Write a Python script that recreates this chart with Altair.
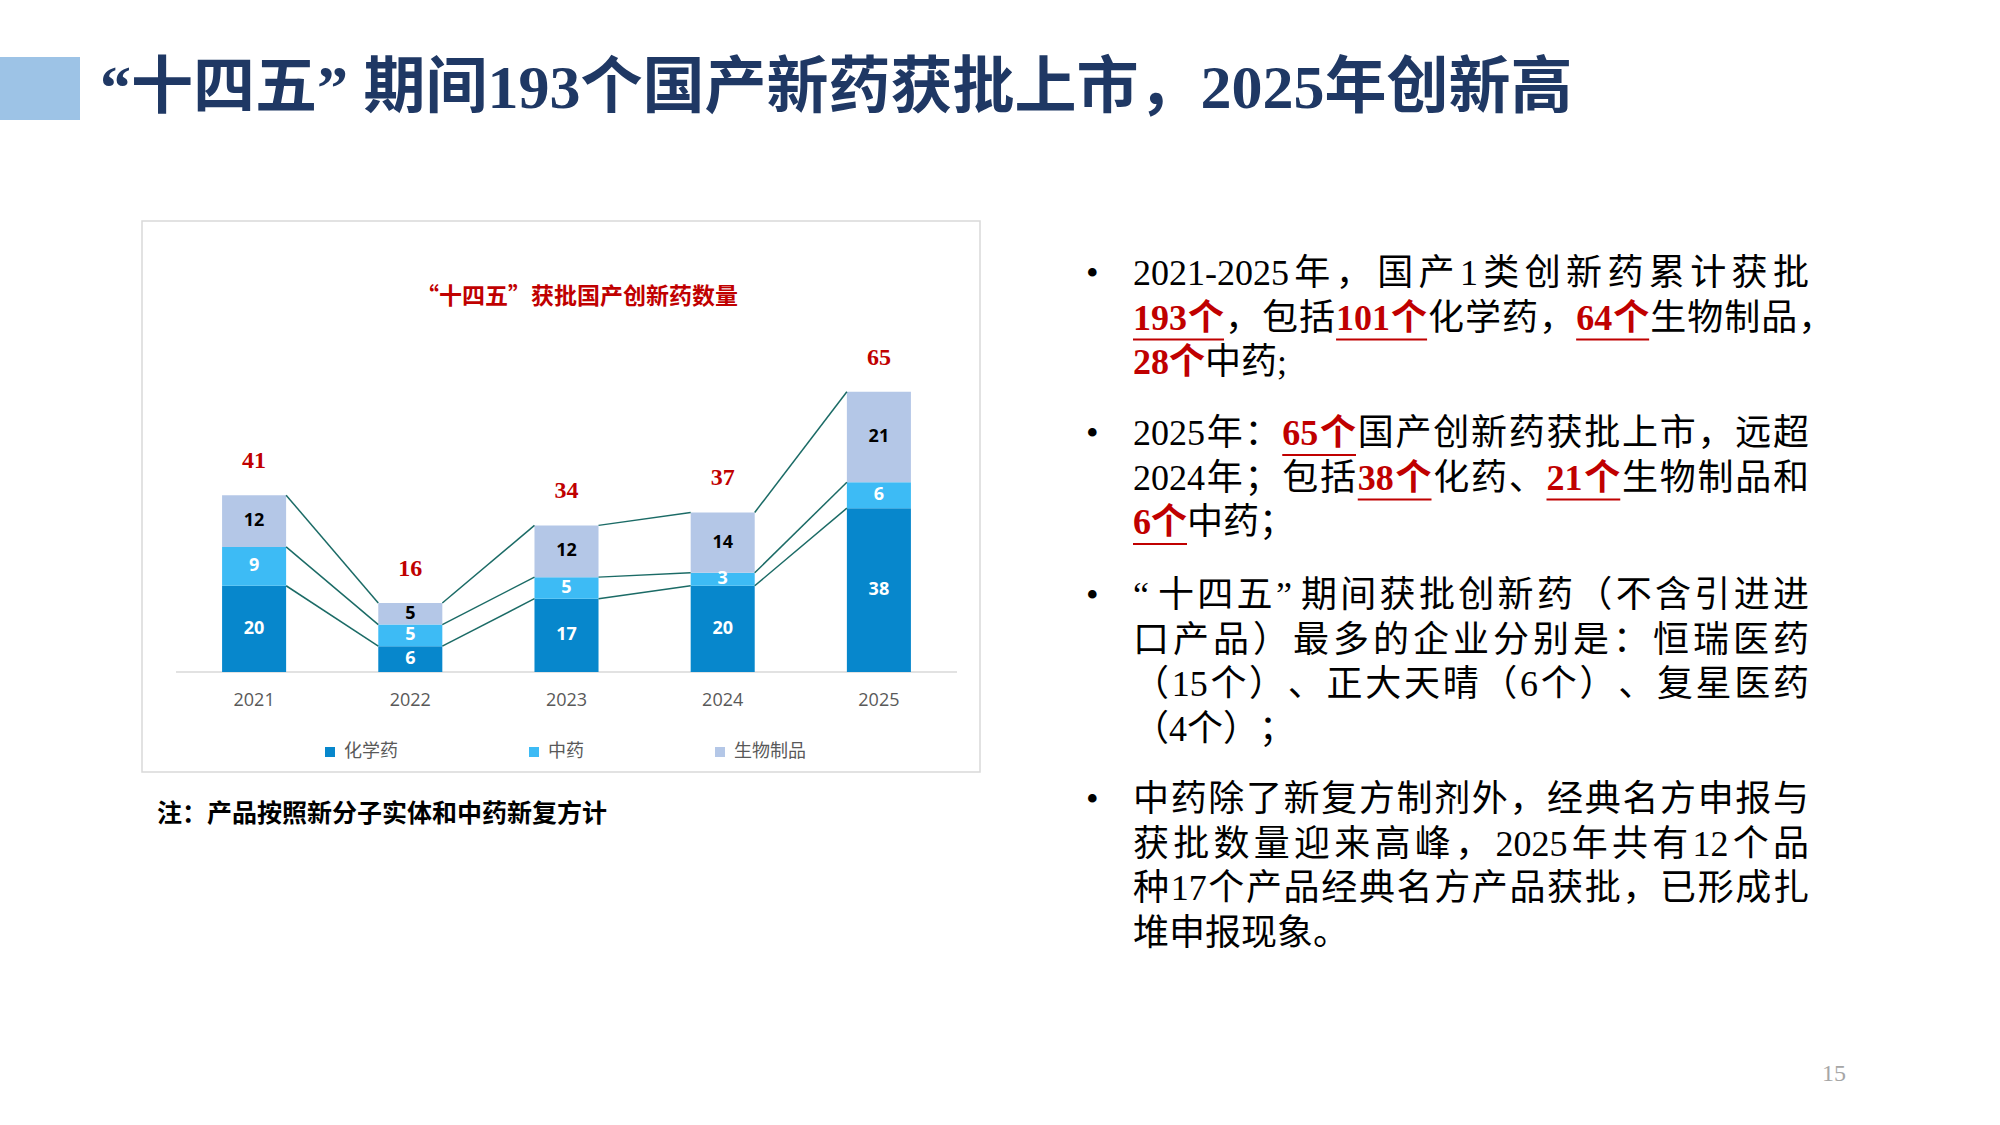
import altair as alt
import pandas as pd

# ---------------- data ----------------
years = ["2021", "2022", "2023", "2024", "2025"]
chem = [20, 6, 17, 20, 38]
tcm = [9, 5, 5, 3, 6]
bio = [12, 5, 12, 14, 21]
totals = [41, 16, 34, 37, 65]
series_names = ["化学药", "中药", "生物制品"]
series_colors = ["#0787CC", "#3DBBF5", "#B4C7E7"]

slide_title = "“十四五” 期间193个国产新药获批上市，2025年创新高"
chart_title = "“十四五”获批国产创新药数量"
note_text = "注：产品按照新分子实体和中药新复方计"
page_no = "15"

# 0 = plain, 1 = red bold, 2 = red bold underlined
bullets = [
    [
        [("2021-2025年，国产1类创新药累计获批", 0)],
        [("193个", 2), ("，包括", 0), ("101个", 2), ("化学药，", 0), ("64个", 2), ("生物制品，", 0)],
        [("28个", 1), ("中药;", 0)],
    ],
    [
        [("2025年：", 0), ("65个", 2), ("国产创新药获批上市，远超", 0)],
        [("2024年；包括", 0), ("38个", 2), ("化药、", 0), ("21个", 2), ("生物制品和", 0)],
        [("6个", 2), ("中药；", 0)],
    ],
    [
        [("“十四五”期间获批创新药（不含引进进", 0)],
        [("口产品）最多的企业分别是：恒瑞医药", 0)],
        [("（15个）、正大天晴（6个）、复星医药", 0)],
        [("（4个）；", 0)],
    ],
    [
        [("中药除了新复方制剂外，经典名方申报与", 0)],
        [("获批数量迎来高峰，2025年共有12个品", 0)],
        [("种17个产品经典名方产品获批，已形成扎", 0)],
        [("堆申报现象。", 0)],
    ],
]

# ---------------- derived tables ----------------
bar_rows, lab_rows = [], []
cum = {0: [], 1: [], 2: []}
for i, y in enumerate(years):
    start = 0
    for k, (name, vals) in enumerate(zip(series_names, [chem, tcm, bio])):
        v = vals[i]
        bar_rows.append(dict(year=y, series=name, start=start, end=start + v))
        lab_rows.append(dict(year=y, series=name, mid=start + v / 2, val=str(v)))
        start += v
        cum[k].append(start)
bar_df = pd.DataFrame(bar_rows)
lab_df = pd.DataFrame(lab_rows)
tot_df = pd.DataFrame(dict(year=years, total=totals, t=[str(t) for t in totals]))

con_rows = []
for k in range(3):
    for i in range(len(years) - 1):
        con_rows.append(dict(year=years[i], nxt=years[i + 1], y0=cum[k][i], y1=cum[k][i + 1]))
con_df = pd.DataFrame(con_rows)

# ---------------- scales ----------------
xscale = alt.Scale(domain=years, range=[176, 957], paddingInner=0.59, paddingOuter=0.295)
yscale = alt.Scale(domain=[0, 80], range=[672, 327], nice=False, zero=False)
X = alt.X("year:N", scale=xscale, axis=None)

one = pd.DataFrame({"a": [0]})

frame = alt.Chart(one).mark_rect(fill="white", stroke="#D9D9D9", strokeWidth=1.5).encode(
    x=alt.value(142), x2=alt.value(980), y=alt.value(221), y2=alt.value(772))

title_bar = alt.Chart(one).mark_rect(fill="#9DC3E6").encode(
    x=alt.value(0), x2=alt.value(80), y=alt.value(57), y2=alt.value(120))

title_txt = alt.Chart(pd.DataFrame({"t": [slide_title]})).mark_text(
    align="left", baseline="middle", font="Liberation Serif, Noto Sans CJK SC",
    fontWeight="bold", fontSize=62, color="#1F3864").encode(
    x=alt.value(100), y=alt.value(89), text="t:N")

ctitle = alt.Chart(pd.DataFrame({"t": [chart_title]})).mark_text(
    align="center", baseline="middle", font="Noto Sans CJK SC",
    fontWeight="bold", fontSize=23, color="#C00000").encode(
    x=alt.value(577), y=alt.value(297), text="t:N")

baseline = alt.Chart(one).mark_rule(color="#D9D9D9", strokeWidth=1.5).encode(
    x=alt.value(176), x2=alt.value(957), y=alt.Y("a:Q", scale=yscale, axis=None))

bars = alt.Chart(bar_df).mark_bar(strokeWidth=0).encode(
    x=X,
    y=alt.Y("start:Q", scale=yscale, axis=None),
    y2="end:Q",
    color=alt.Color("series:N", scale=alt.Scale(domain=series_names, range=series_colors),
                    legend=alt.Legend(orient="none", legendX=321, legendY=743, direction="horizontal",
                                      title=None, symbolType="square", symbolSize=100,
                                      symbolStrokeWidth=0, labelFont="Noto Sans CJK SC",
                                      labelFontSize=18, labelColor="#595959", columnPadding=127,
                                      labelOffset=5, padding=0)),
)

connectors = alt.Chart(con_df).mark_rule(color="#1B6B66", strokeWidth=1.5).encode(
    x=alt.X("year:N", scale=xscale, axis=None, bandPosition=1),
    x2=alt.X2("nxt:N", bandPosition=0),
    y=alt.Y("y0:Q", scale=yscale, axis=None),
    y2="y1:Q",
)

seg_labels = alt.Chart(lab_df).mark_text(
    font="Open Sans", fontWeight="bold", fontSize=18, baseline="middle").encode(
    x=X, y=alt.Y("mid:Q", scale=yscale, axis=None), text="val:N",
    color=alt.condition(alt.datum.series == "生物制品", alt.value("#000000"), alt.value("#FFFFFF")))

tot_labels = alt.Chart(tot_df).mark_text(
    font="Liberation Serif", fontWeight="bold", fontSize=24, baseline="middle",
    color="#C00000", dy=-34).encode(
    x=X, y=alt.Y("total:Q", scale=yscale, axis=None), text="t:N")

xlabels = alt.Chart(tot_df.assign(z=0)).mark_text(
    font="Open Sans", fontSize=18, baseline="middle", color="#595959", dy=29).encode(
    x=X, y=alt.Y("z:Q", scale=yscale, axis=None), text="year:N")

note = alt.Chart(pd.DataFrame({"t": [note_text]})).mark_text(
    align="left", baseline="middle", font="Noto Sans CJK SC", fontWeight="bold",
    fontSize=25, color="#000000").encode(x=alt.value(157), y=alt.value(814), text="t:N")

page = alt.Chart(pd.DataFrame({"t": [page_no]})).mark_text(
    align="center", baseline="middle", font="Liberation Serif", fontSize=24,
    color="#A6A6A6").encode(x=alt.value(1834), y=alt.value(1074), text="t:N")

# ---------------- right-hand text layout ----------------
FS = 36
X0 = 1133
TARGET = 676
para_y = [274, 434, 596, 800]
LINE = 44.5


def cw(c):
    if c in "0123456789":
        return 0.5
    if c == "-":
        return 0.333
    if c == ";":
        return 0.278
    if c in "“”":
        return 0.6
    return 1.0


def is_ascii(c):
    return ord(c) < 128


char_rows, ul_rows, dot_rows = [], [], []
for p, lines in enumerate(bullets):
    dot_rows.append(dict(px=1086, py=para_y[p], t="•"))
    for li, segs in enumerate(lines):
        y = para_y[p] + li * LINE
        chars = [(c, st) for s, st in segs for c in s]
        widths = [cw(c) * FS for c, _ in chars]
        natural = sum(widths)
        last = li == len(lines) - 1
        gaps = [i for i in range(len(chars) - 1)
                if not (is_ascii(chars[i][0]) and is_ascii(chars[i + 1][0]))]
        target = TARGET + (0.7 * FS if chars[-1][0] == "，" else 0)
        extra = 0 if last or not gaps else (target - natural) / len(gaps)
        x = X0
        span = None
        for i, (c, st) in enumerate(chars):
            char_rows.append(dict(ch=c, px=x, py=y, st=st))
            if st == 2:
                if span is None:
                    span = [x, x + widths[i]]
                else:
                    span[1] = x + widths[i]
            elif span is not None:
                ul_rows.append(dict(x1=span[0], x2=span[1], y=y + 21))
                span = None
            x += widths[i] + (extra if i in gaps else 0)
        if span is not None:
            ul_rows.append(dict(x1=span[0], x2=span[1], y=y + 21))

char_df = pd.DataFrame(char_rows)
ul_df = pd.DataFrame(ul_rows)
dot_df = pd.DataFrame(dot_rows)

BODY_FONT = "Liberation Serif, Noto Sans CJK SC"
body_plain = alt.Chart(char_df[char_df.st == 0]).mark_text(
    align="left", baseline="middle", font=BODY_FONT, fontSize=FS, color="#000000").encode(
    x=alt.X("px:Q", scale=None), y=alt.Y("py:Q", scale=None), text="ch:N")
body_red = alt.Chart(char_df[char_df.st > 0]).mark_text(
    align="left", baseline="middle", font=BODY_FONT, fontWeight="bold", fontSize=FS,
    color="#C00000").encode(
    x=alt.X("px:Q", scale=None), y=alt.Y("py:Q", scale=None), text="ch:N")
underlines = alt.Chart(ul_df).mark_rule(color="#C00000", strokeWidth=2).encode(
    x=alt.X("x1:Q", scale=None), x2="x2:Q", y=alt.Y("y:Q", scale=None))
dots = alt.Chart(dot_df).mark_text(
    align="left", baseline="middle", font="Liberation Serif", fontSize=36, color="#000000").encode(
    x=alt.X("px:Q", scale=None), y=alt.Y("py:Q", scale=None), text="t:N")

chart = alt.layer(
    frame, title_bar, title_txt, ctitle, baseline, bars, connectors, seg_labels, tot_labels,
    xlabels, note, page, body_plain, body_red, underlines, dots,
).resolve_scale(x="independent", y="independent").properties(
    width=2000, height=1125, autosize="none", padding=0, background="white"
).configure_view(stroke=None)

chart.save("out.html", embed_options={"renderer": "svg", "actions": False})
